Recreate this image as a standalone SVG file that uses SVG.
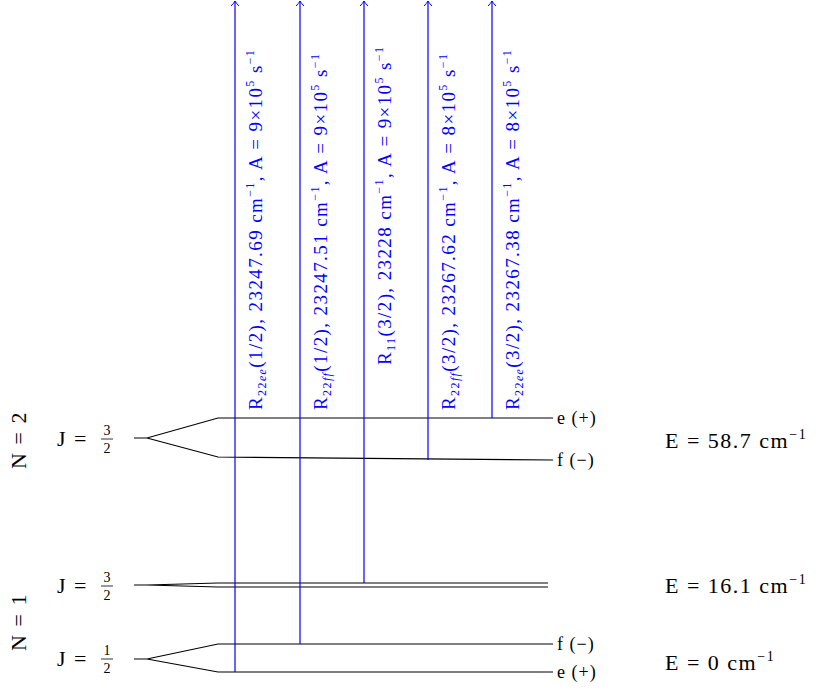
<svg xmlns="http://www.w3.org/2000/svg" width="831" height="690" viewBox="0 0 831 690">
<defs>
<style>
text{font-family:"Liberation Serif","DejaVu Serif",serif;fill:#000}
.lv{stroke:#000;stroke-width:1.2;fill:none}
.tr{stroke:#00f;stroke-width:1.2}
.lbl{fill:#00f;font-size:19px;letter-spacing:1.4px}
.big{font-size:22px;letter-spacing:1.5px}
.fr{font-size:14px}
.sm{font-size:18px;letter-spacing:1px}
</style>
<marker id="ah" markerWidth="12" markerHeight="12" refX="10" refY="5" orient="auto" markerUnits="userSpaceOnUse">
<path d="M5,1 Q8,4 10,5 Q8,6 5,9" fill="none" stroke="#00f" stroke-width="1"/>
</marker>
</defs>
<g id="levels">
<path class="lv" d="M134,438 H147 L218,418 H553 M147,438 L218,457 L553,460"/>
<path class="lv" d="M134,585 H147 L218,583 H548 M147,585 L218,587 H548"/>
<path class="lv" d="M134,659 H147 L218,644 H553 M147,659 L218,672 H553"/>
</g>
<g id="connectors">
<line class="tr" x1="235" y1="672" x2="235" y2="1" marker-end="url(#ah)"/>
<line class="tr" x1="300" y1="644" x2="300" y2="1" marker-end="url(#ah)"/>
<line class="tr" x1="364" y1="583" x2="364" y2="1" stroke-width="2.2" marker-end="url(#ah)"/>
<line class="tr" x1="428" y1="460" x2="428" y2="1" marker-end="url(#ah)"/>
<line class="tr" x1="492" y1="418" x2="492" y2="1" marker-end="url(#ah)"/>
</g>
<g id="labels">
<text class="lbl" transform="translate(262,410) rotate(-90)">R<tspan font-size="12" dy="4">22<tspan font-style="italic">ee</tspan></tspan><tspan dy="-4">(1/2), 23247.69 cm</tspan><tspan font-size="12" dy="-8">−1</tspan><tspan dy="8">, A = 9×10</tspan><tspan font-size="12" dy="-8">5</tspan><tspan dy="8"> s</tspan><tspan font-size="12" dy="-8">−1</tspan></text>
<text class="lbl" transform="translate(327,410) rotate(-90)">R<tspan font-size="12" dy="4">22<tspan font-style="italic">ff</tspan></tspan><tspan dy="-4">(1/2), 23247.51 cm</tspan><tspan font-size="12" dy="-8">−1</tspan><tspan dy="8">, A = 9×10</tspan><tspan font-size="12" dy="-8">5</tspan><tspan dy="8"> s</tspan><tspan font-size="12" dy="-8">−1</tspan></text>
<text class="lbl" transform="translate(391,365) rotate(-90)">R<tspan font-size="12" dy="4">11</tspan><tspan dy="-4">(3/2), 23228 cm</tspan><tspan font-size="12" dy="-8">−1</tspan><tspan dy="8">, A = 9×10</tspan><tspan font-size="12" dy="-8">5</tspan><tspan dy="8"> s</tspan><tspan font-size="12" dy="-8">−1</tspan></text>
<text class="lbl" transform="translate(455,410) rotate(-90)">R<tspan font-size="12" dy="4">22<tspan font-style="italic">ff</tspan></tspan><tspan dy="-4">(3/2), 23267.62 cm</tspan><tspan font-size="12" dy="-8">−1</tspan><tspan dy="8">, A = 8×10</tspan><tspan font-size="12" dy="-8">5</tspan><tspan dy="8"> s</tspan><tspan font-size="12" dy="-8">−1</tspan></text>
<text class="lbl" transform="translate(519,410) rotate(-90)">R<tspan font-size="12" dy="4">22<tspan font-style="italic">ee</tspan></tspan><tspan dy="-4">(3/2), 23267.38 cm</tspan><tspan font-size="12" dy="-8">−1</tspan><tspan dy="8">, A = 8×10</tspan><tspan font-size="12" dy="-8">5</tspan><tspan dy="8"> s</tspan><tspan font-size="12" dy="-8">−1</tspan></text>
</g>
<g id="parity">
<text class="sm" x="557" y="424">e (+)</text>
<text class="sm" x="557" y="466">f (−)</text>
<text class="sm" x="557" y="650">f (−)</text>
<text class="sm" x="557" y="678">e (+)</text>
</g>
<g id="energies">
<text class="big" x="665" y="448">E = 58.7 cm<tspan font-size="14" dy="-9">−1</tspan></text>
<text class="big" x="665" y="593">E = 16.1 cm<tspan font-size="14" dy="-9">−1</tspan></text>
<text class="big" x="665" y="670">E = 0 cm<tspan font-size="14" dy="-9">−1</tspan></text>
</g>
<g id="Jlabels">
<text class="big" x="57" y="446">J =</text>
<text class="fr" x="107" y="435" text-anchor="middle">3</text><line x1="101" y1="439" x2="113" y2="439" stroke="#000" stroke-width="0.8"/><text class="fr" x="107" y="453" text-anchor="middle">2</text>
<text class="big" x="57" y="593">J =</text>
<text class="fr" x="107" y="582" text-anchor="middle">3</text><line x1="101" y1="586" x2="113" y2="586" stroke="#000" stroke-width="0.8"/><text class="fr" x="107" y="600" text-anchor="middle">2</text>
<text class="big" x="57" y="666">J =</text>
<text class="fr" x="107" y="655" text-anchor="middle">1</text><line x1="101" y1="659" x2="113" y2="659" stroke="#000" stroke-width="0.8"/><text class="fr" x="107" y="673" text-anchor="middle">2</text>
</g>
<g id="Nlabels">
<text class="big" transform="translate(26,440) rotate(-90)" text-anchor="middle">N = 2</text>
<text class="big" transform="translate(26,622) rotate(-90)" text-anchor="middle">N = 1</text>
</g>
</svg>
